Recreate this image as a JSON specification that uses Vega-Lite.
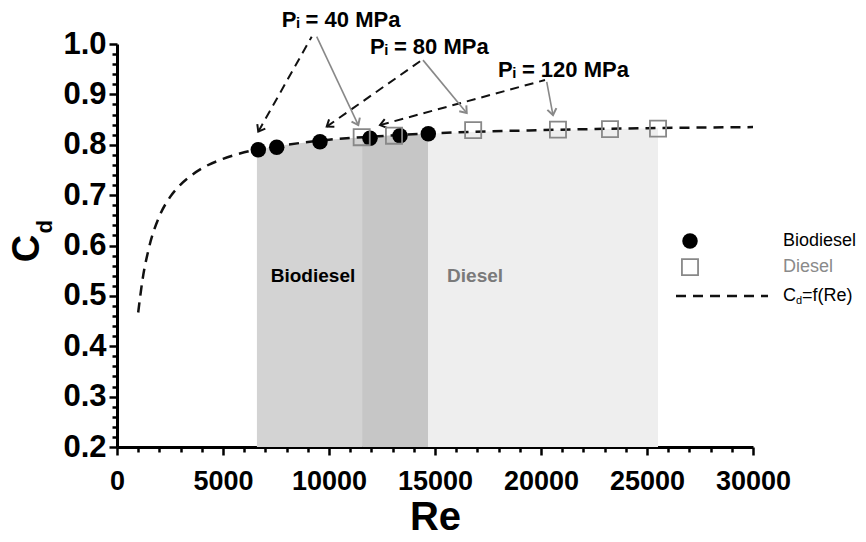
{
  "$schema": "https://vega.github.io/schema/vega-lite/v6.json",
  "width": 636,
  "height": 403,
  "autosize": {"type": "none"},
  "padding": {"left": 117, "top": 44, "right": 113, "bottom": 95},
  "background": "white",
  "config": {
    "view": {"stroke": null},
    "axis": {"grid": false, "domainColor": "#000", "domainWidth": 3, "tickColor": "#000", "tickWidth": 2.5, "labelFont": "Liberation Sans", "labelFontWeight": "bold", "labelColor": "#000", "titleFont": "Liberation Sans", "titleFontWeight": "bold", "titleColor": "#000", "labelOverlap": false, "labelFlush": false, "labelBound": false},
    "text": {"font": "Liberation Sans"}
  },
  "resolve": {"scale": {"color": "independent", "stroke": "independent", "angle": "independent"}},
  "datasets": {
    "regions": [
      {"region": "bio", "Re": 6600, "Cd": 0.79},
      {"region": "bio", "Re": 8000, "Cd": 0.8},
      {"region": "bio", "Re": 10000, "Cd": 0.81},
      {"region": "bio", "Re": 11560, "Cd": 0.815},
      {"region": "overlap", "Re": 11560, "Cd": 0.815},
      {"region": "overlap", "Re": 13000, "Cd": 0.819},
      {"region": "overlap", "Re": 14670, "Cd": 0.822},
      {"region": "diesel", "Re": 14670, "Cd": 0.822},
      {"region": "diesel", "Re": 17000, "Cd": 0.826},
      {"region": "diesel", "Re": 20000, "Cd": 0.829},
      {"region": "diesel", "Re": 25520, "Cd": 0.833}
    ],
    "curve": [
      {"Re": 1000, "Cd": 0.467},
      {"Re": 1200, "Cd": 0.531},
      {"Re": 1500, "Cd": 0.594},
      {"Re": 2000, "Cd": 0.658},
      {"Re": 2500, "Cd": 0.696},
      {"Re": 3000, "Cd": 0.721},
      {"Re": 3500, "Cd": 0.739},
      {"Re": 4000, "Cd": 0.753},
      {"Re": 5000, "Cd": 0.772},
      {"Re": 6000, "Cd": 0.785},
      {"Re": 7000, "Cd": 0.794},
      {"Re": 8000, "Cd": 0.800},
      {"Re": 10000, "Cd": 0.810},
      {"Re": 12000, "Cd": 0.816},
      {"Re": 15000, "Cd": 0.823},
      {"Re": 20000, "Cd": 0.829},
      {"Re": 25000, "Cd": 0.833},
      {"Re": 30000, "Cd": 0.835}
    ],
    "bio": [
      {"Re": 6665, "Cd": 0.790},
      {"Re": 7533, "Cd": 0.795},
      {"Re": 9575, "Cd": 0.806},
      {"Re": 11934, "Cd": 0.813},
      {"Re": 13349, "Cd": 0.818},
      {"Re": 14684, "Cd": 0.822}
    ],
    "diesel": [
      {"Re": 11542, "Cd": 0.815},
      {"Re": 13066, "Cd": 0.818},
      {"Re": 16800, "Cd": 0.829},
      {"Re": 20800, "Cd": 0.830},
      {"Re": 23255, "Cd": 0.831},
      {"Re": 25520, "Cd": 0.832}
    ],
    "arrows": [
      {"arrow": "a40b", "kind": "dash", "Re2": 9184, "Cd2": 1.0145, "Re": 6665, "Cd": 0.826},
      {"arrow": "a40d", "kind": "gray", "Re2": 9420, "Cd2": 1.0145, "Re": 11382, "Cd": 0.839},
      {"arrow": "a80b", "kind": "dash", "Re2": 14373, "Cd2": 0.968, "Re": 9892, "Cd": 0.836},
      {"arrow": "a80d", "kind": "gray", "Re2": 14434, "Cd2": 0.968, "Re": 16495, "Cd": 0.863},
      {"arrow": "a120b", "kind": "dash", "Re2": 20189, "Cd2": 0.9285, "Re": 12406, "Cd": 0.839},
      {"arrow": "a120d", "kind": "gray", "Re2": 20269, "Cd2": 0.925, "Re": 20566, "Cd": 0.859}
    ],
    "notes": [
      {"label": "Pᵢ = 40 MPa", "Re": 7769, "Cd": 1.0476},
      {"label": "Pᵢ = 80 MPa", "Re": 11934, "Cd": 0.994},
      {"label": "Pᵢ = 120 MPa", "Re": 17972, "Cd": 0.948}
    ],
    "regionLabels": [
      {"label": "Biodiesel", "Re": 9245, "Cd": 0.54},
      {"label": "Diesel", "Re": 16890, "Cd": 0.54}
    ],
    "legendText": [
      {"label": "Biodiesel", "Re": 31415, "Cd": 0.609},
      {"label": "Diesel", "Re": 31415, "Cd": 0.557}
    ]
  },
  "encoding": {
    "x": {"field": "Re", "type": "quantitative", "scale": {"domain": [0, 30000], "nice": false, "zero": false},
      "axis": {"title": "Re", "titleFontSize": 40, "titlePadding": 3,
        "values": [0,1000,2000,3000,4000,5000,6000,7000,8000,9000,10000,11000,12000,13000,14000,15000,16000,17000,18000,19000,20000,21000,22000,23000,24000,25000,26000,27000,28000,29000,30000],
        "labelExpr": "datum.value % 5000 === 0 ? format(datum.value, 'd') : ''",
        "labelFontSize": 27, "labelPadding": 13,
        "tickSize": {"condition": {"test": "datum.value % 5000 === 0", "value": 8}, "value": 5}}},
    "y": {"field": "Cd", "type": "quantitative", "stack": null, "scale": {"domain": [0.2, 1.0], "nice": false, "zero": false},
      "axis": {"title": "C", "titleFontSize": 38, "titleAngle": 270, "titleX": -90, "titleY": 204, "titleAlign": "center", "titleBaseline": "middle",
        "values": [0.2,0.22,0.24,0.26,0.28,0.3,0.32,0.34,0.36,0.38,0.4,0.42,0.44,0.46,0.48,0.5,0.52,0.54,0.56,0.58,0.6,0.62,0.64,0.66,0.68,0.7,0.72,0.74,0.76,0.78,0.8,0.82,0.84,0.86,0.88,0.9,0.92,0.94,0.96,0.98,1.0],
        "labelExpr": "abs(datum.value*10 - round(datum.value*10)) < 0.001 ? format(datum.value, '.1f') : ''",
        "labelFontSize": 31, "labelPadding": 3, "labelBaseline": "middle",
        "tickSize": {"condition": {"test": "abs(datum.value*10 - round(datum.value*10)) < 0.001", "value": 8}, "value": 5}}}
  },
  "layer": [
    {
      "data": {"name": "regions"},
      "mark": {"type": "area", "opacity": 1},
      "encoding": {
        "y2": {"datum": 0.2},
        "color": {"field": "region", "type": "nominal", "legend": null, "scale": {"domain": ["bio", "overlap", "diesel"], "range": ["#d3d3d3", "#c6c6c6", "#eeeeee"]}}
      }
    },
    {
      "data": {"name": "curve"},
      "mark": {"type": "line", "color": "#111", "strokeWidth": 2.5, "strokeDash": [10, 7], "interpolate": "monotone"}
    },
    {
      "data": {"name": "regionLabels"},
      "mark": {"type": "text", "fontSize": 19, "fontWeight": "bold", "align": "center", "baseline": "middle"},
      "encoding": {
        "text": {"field": "label"},
        "color": {"field": "label", "type": "nominal", "legend": null, "scale": {"domain": ["Biodiesel", "Diesel"], "range": ["#000000", "#7a7a7a"]}}
      }
    },
    {
      "data": {"name": "arrows"},
      "transform": [{"filter": "datum.kind === 'dash'"}],
      "mark": {"type": "rule", "color": "#111", "strokeWidth": 2, "strokeDash": [9, 6]},
      "encoding": {
        "x2": {"field": "Re2"},
        "y2": {"field": "Cd2"}
      }
    },
    {
      "data": {"name": "arrows"},
      "transform": [{"filter": "datum.kind === 'gray'"}],
      "mark": {"type": "rule", "color": "#888888", "strokeWidth": 1.6},
      "encoding": {
        "x2": {"field": "Re2"},
        "y2": {"field": "Cd2"}
      }
    },
    {
      "data": {"name": "arrows"},
      "mark": {"type": "point", "shape": "M-1,-0.75L0,0L-1,0.75", "filled": false, "strokeWidth": 2, "size": 150, "opacity": 1},
      "encoding": {
        "angle": {"field": "arrow", "type": "nominal", "legend": null, "scale": {"type": "ordinal", "domain": ["a40b", "a40d", "a80b", "a80d", "a120b", "a120d"], "range": [119.3, 64.8, 144.9, 50.5, 164.7, 79.3]}},
        "stroke": {"field": "kind", "type": "nominal", "legend": null, "scale": {"domain": ["dash", "gray"], "range": ["#111111", "#888888"]}}
      }
    },
    {
      "data": {"name": "bio"},
      "mark": {"type": "point", "shape": "circle", "filled": true, "color": "#000", "size": 240, "opacity": 1}
    },
    {
      "data": {"name": "diesel"},
      "mark": {"type": "point", "shape": "square", "filled": false, "color": "#888888", "strokeWidth": 1.8, "size": 260, "opacity": 1}
    },
    {
      "data": {"name": "notes"},
      "mark": {"type": "text", "fontSize": 22, "fontWeight": "bold", "align": "left", "baseline": "middle", "color": "#000"},
      "encoding": {"text": {"field": "label"}}
    },
    {
      "data": {"values": [{"Re": -3396, "Cd": 0.637, "label": "d"}]},
      "mark": {"type": "text", "fontSize": 22, "fontWeight": "bold", "align": "center", "baseline": "middle", "angle": 270, "color": "#000"},
      "encoding": {"text": {"field": "label"}}
    },
    {
      "data": {"values": [{"Re": 27028, "Cd": 0.609}]},
      "mark": {"type": "point", "shape": "circle", "filled": true, "color": "#000", "size": 240, "opacity": 1}
    },
    {
      "data": {"values": [{"Re": 27028, "Cd": 0.557}]},
      "mark": {"type": "point", "shape": "square", "filled": false, "color": "#888888", "strokeWidth": 1.8, "size": 260, "opacity": 1}
    },
    {
      "data": {"values": [{"Re": 26368, "Cd": 0.4997}, {"Re": 30708, "Cd": 0.4997}]},
      "mark": {"type": "line", "color": "#111", "strokeWidth": 2.5, "strokeDash": [10, 7]}
    },
    {
      "data": {"name": "legendText"},
      "mark": {"type": "text", "fontSize": 18, "align": "left", "baseline": "middle"},
      "encoding": {
        "text": {"field": "label"},
        "color": {"field": "label", "type": "nominal", "legend": null, "scale": {"domain": ["Biodiesel", "Diesel"], "range": ["#000000", "#8a8a8a"]}}
      }
    },
    {
      "data": {"values": [{"Re": 31415, "Cd": 0.4997, "label": "C"}]},
      "mark": {"type": "text", "fontSize": 18, "align": "left", "baseline": "middle", "color": "#000"},
      "encoding": {"text": {"field": "label"}}
    },
    {
      "data": {"values": [{"Re": 31415, "Cd": 0.4997, "label": "d"}]},
      "mark": {"type": "text", "fontSize": 11, "align": "left", "baseline": "middle", "dx": 13, "dy": 5, "color": "#000"},
      "encoding": {"text": {"field": "label"}}
    },
    {
      "data": {"values": [{"Re": 31415, "Cd": 0.4997, "label": "=f(Re)"}]},
      "mark": {"type": "text", "fontSize": 18, "align": "left", "baseline": "middle", "dx": 19, "color": "#000"},
      "encoding": {"text": {"field": "label"}}
    }
  ]
}
